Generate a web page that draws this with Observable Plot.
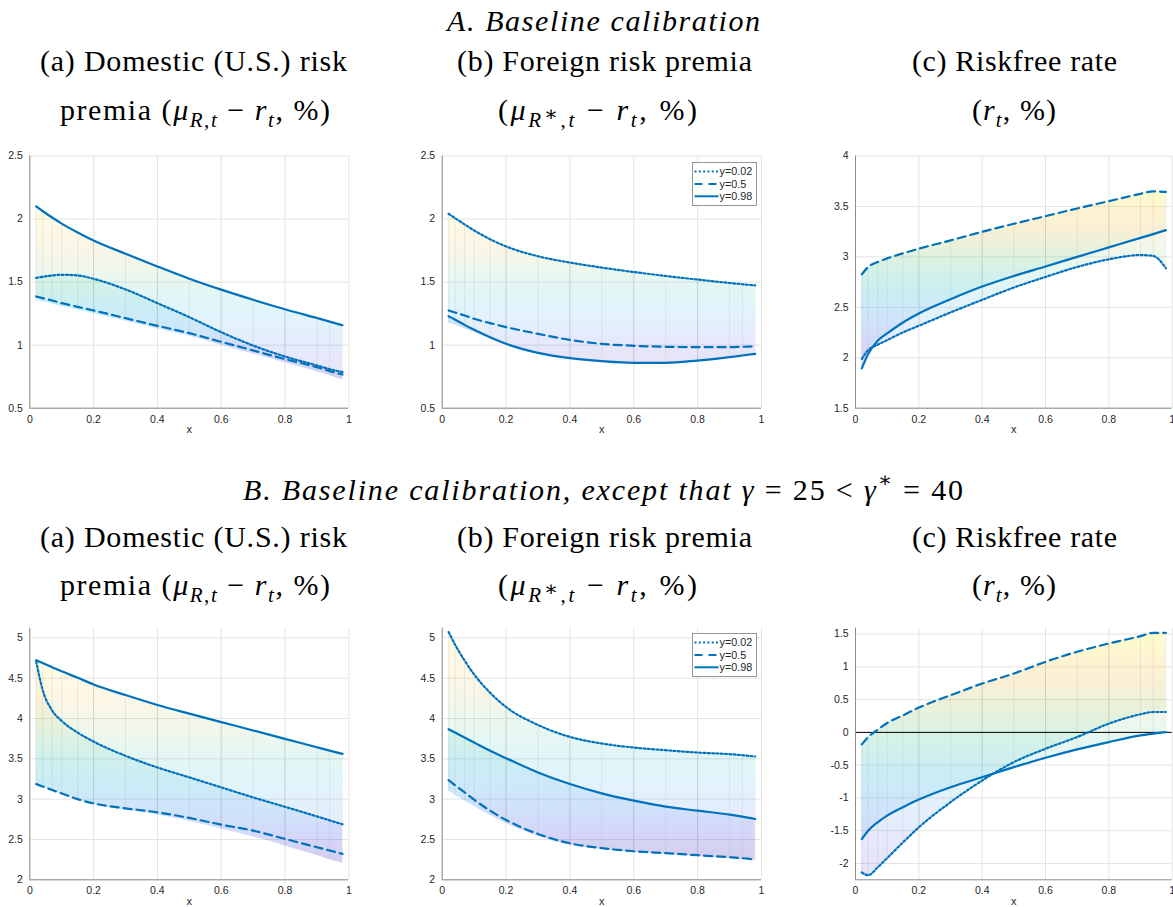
<!DOCTYPE html>
<html><head><meta charset="utf-8">
<script src="https://cdn.jsdelivr.net/npm/d3@7"></script>
<script src="https://cdn.jsdelivr.net/npm/@observablehq/plot@0.6"></script>
<style>
body{margin:0;background:#fff;}
#root{position:relative;width:1173px;height:907px;overflow:hidden;background:#fff;}
.panel{position:absolute;}
#heads{position:absolute;left:0;top:0;}
</style></head><body><div id="root"></div>
<script>
// ---------------- data ----------------
const xs = [0.02,0.04,0.07,0.1,0.15,0.2,0.3,0.4,0.5,0.6,0.7,0.8,0.9,0.94,0.98];
const seriesLabels = ["y=0.02","y=0.5","y=0.98"];
const xTicks = [0,0.2,0.4,0.6,0.8,1];

// A. Baseline calibration
const a1Dot   = [1.534,1.542,1.553,1.558,1.553,1.526,1.442,1.333,1.222,1.103,0.997,0.910,0.839,0.810,0.786];
const a1Dash  = [1.386,1.373,1.354,1.333,1.304,1.275,1.214,1.153,1.095,1.026,0.958,0.889,0.825,0.794,0.767];
const a1Solid = [2.100,2.064,2.012,1.964,1.894,1.830,1.725,1.624,1.527,1.440,1.360,1.285,1.215,1.187,1.158];
const a1Trough= [1.355,1.345,1.327,1.305,1.278,1.250,1.190,1.130,1.070,1.000,0.930,0.860,0.790,0.760,0.725];

const a2Dot   = [2.042,2.008,1.958,1.910,1.840,1.783,1.705,1.655,1.615,1.580,1.549,1.520,1.493,1.483,1.474];
const a2Dash  = [1.275,1.259,1.235,1.209,1.175,1.143,1.090,1.042,1.010,0.995,0.987,0.984,0.984,0.987,0.990];
const a2Solid = [1.230,1.204,1.161,1.122,1.063,1.011,0.939,0.897,0.873,0.860,0.860,0.878,0.905,0.918,0.931];
const a2Trough= [1.175,1.160,1.130,1.100,1.050,1.000,0.930,0.890,0.867,0.855,0.855,0.873,0.900,0.913,0.927];

const a3Dot   = [1.988,2.076,2.129,2.175,2.251,2.317,2.449,2.574,2.696,2.801,2.900,2.976,3.018,3.009,2.887];
const a3Dash  = [2.827,2.900,2.949,2.985,3.035,3.081,3.163,3.249,3.328,3.404,3.480,3.552,3.625,3.650,3.644];
const a3Solid = [1.895,2.037,2.169,2.241,2.350,2.439,2.580,2.706,2.811,2.905,3.000,3.094,3.188,3.226,3.265];

// B. gamma = 25 < gamma* = 40
const b1Dot   = [4.710,4.360,4.100,3.970,3.826,3.714,3.537,3.393,3.270,3.146,3.022,2.905,2.786,2.737,2.688];
const b1Dash  = [3.187,3.158,3.113,3.071,3.000,2.948,2.886,2.837,2.767,2.684,2.610,2.507,2.404,2.363,2.321];
const b1Solid = [4.724,4.688,4.636,4.585,4.505,4.423,4.291,4.168,4.060,3.956,3.852,3.748,3.644,3.602,3.561];
const b1Trough= [3.180,3.150,3.105,3.062,2.990,2.935,2.865,2.805,2.725,2.630,2.535,2.420,2.300,2.250,2.205];

const b2Dot   = [5.074,4.918,4.720,4.547,4.320,4.143,3.920,3.772,3.690,3.640,3.607,3.578,3.558,3.545,3.529];
const b2Dash  = [3.236,3.174,3.084,2.993,2.857,2.742,2.569,2.453,2.392,2.354,2.330,2.305,2.280,2.268,2.251];
const b2Solid = [3.867,3.826,3.764,3.702,3.599,3.508,3.331,3.187,3.071,2.981,2.907,2.857,2.808,2.783,2.754];
const b2Trough= [3.100,3.050,2.980,2.910,2.800,2.700,2.540,2.430,2.375,2.340,2.315,2.290,2.265,2.252,2.235];

const b3Dot   = [-2.138,-2.180,-2.060,-1.918,-1.679,-1.449,-1.066,-0.735,-0.454,-0.250,-0.071,0.133,0.276,0.311,0.311];
const b3Dash  = [-0.184,-0.070,0.040,0.143,0.260,0.378,0.566,0.745,0.898,1.077,1.230,1.357,1.469,1.520,1.520];
const b3Solid = [-1.628,-1.500,-1.372,-1.270,-1.143,-1.026,-0.837,-0.684,-0.531,-0.388,-0.260,-0.148,-0.046,-0.020,0.005];

const yTicksA12 = [0.5,1,1.5,2,2.5];
const yTicksA3  = [1.5,2,2.5,3,3.5,4];
const yTicksB12 = [2,2.5,3,3.5,4,4.5,5];
const yTicksB3  = [-2,-1.5,-1,-0.5,0,0.5,1,1.5];

// ---------------- style ----------------
const blue = "#0072BD";
const serif = "'Liberation Serif', 'DejaVu Serif', 'Noto Serif', 'Noto Serif CJK SC', 'Noto Serif CJK JP', 'Tinos', 'FreeSerif', 'Nimbus Roman', 'Times New Roman', Times, serif";
const sans = "'Liberation Sans', Arial, Helvetica, sans-serif";
const parula = [[0,"#3e26a8"],[0.12,"#4648e6"],[0.27,"#2a8ced"],[0.42,"#12b2cf"],[0.56,"#40c396"],[0.68,"#9cc25c"],[0.8,"#e9bb42"],[0.9,"#fbcf32"],[1,"#f7f414"]];
const fmt = d => String(+d.toFixed(2));
const root = document.getElementById("root");

function panel(cfg) {
  const rows = xs.map((x, i) => {
    const d = cfg.dot[i], m = cfg.dash[i], s = cfg.solid[i];
    const e = cfg.trough ? cfg.trough[i] : m;
    const lo = Math.min(d, m, s, e), hi = Math.max(d, m, s, e);
    const o1 = cfg.trough ? e : Math.max(d, s);
    const o2 = cfg.trough ? Math.min(d, s) : m;
    return {x, dot: d, dash: m, solid: s, lo, hi, o1, o2};
  });
  const gid = "grad" + cfg.id;
  const curve = "monotone-x";
  const plot = Plot.plot({
    width: cfg.w, height: cfg.h,
    marginLeft: cfg.ml, marginRight: cfg.mr, marginTop: cfg.mt, marginBottom: cfg.mb,
    style: {fontFamily: sans, fontSize: "10.5px", color: "#262626", background: "transparent"},
    x: {domain: [0, 1]},
    y: {domain: cfg.ydom},
    marks: [
      Plot.gridX(xTicks, {stroke: "#e4e4e4", strokeOpacity: 1}),
      Plot.gridY(cfg.yticks, {stroke: "#e4e4e4", strokeOpacity: 1}),
      Plot.areaY(rows, {x: "x", y1: "lo", y2: "hi", fill: `url(#${gid})`, fillOpacity: 0.13, curve}),
      Plot.areaY(rows, {x: "x", y1: "o1", y2: "o2", fill: `url(#${gid})`, fillOpacity: 0.11, curve}),
      Plot.ruleX(rows, {x: "x", y1: "lo", y2: "hi", stroke: "#707070", strokeOpacity: 0.16, strokeWidth: 0.7}),
      cfg.zero ? Plot.ruleY([0], {stroke: "#000", strokeWidth: 1}) : null,
      Plot.line(rows, {x: "x", y: "dot", stroke: blue, strokeWidth: 2.2, strokeDasharray: "2,2.3", curve}),
      Plot.line(rows, {x: "x", y: "dash", stroke: blue, strokeWidth: 2.2, strokeDasharray: "8,5", curve}),
      Plot.line(rows, {x: "x", y: "solid", stroke: blue, strokeWidth: 2.2, curve}),
      Plot.ruleX([0], {stroke: "#8c8c8c", strokeWidth: 1}),
      Plot.ruleY([cfg.ydom[0]], {stroke: "#8c8c8c", strokeWidth: 1}),
      Plot.axisX(xTicks, {tickSize: 0, tickPadding: 7, tickFormat: fmt, label: null}),
      Plot.axisY(cfg.yticks, {tickSize: 0, tickPadding: 7, tickFormat: fmt, label: null}),
      Plot.text(["x"], {frameAnchor: "bottom", dy: 25, fontSize: 11, fill: "#262626"})
    ]
  });
  const y = plot.scale("y");
  const zmin = d3.min(rows, d => d.lo), zmax = d3.max(rows, d => d.hi);
  const grad = d3.select(plot).insert("defs", ":first-child").append("linearGradient")
    .attr("id", gid).attr("gradientUnits", "userSpaceOnUse")
    .attr("x1", 0).attr("x2", 0).attr("y1", y.apply(zmin)).attr("y2", y.apply(zmax));
  parula.forEach(([o, c]) => grad.append("stop").attr("offset", o).attr("stop-color", c));
  const div = document.createElement("div");
  div.className = "panel";
  div.style.left = cfg.left + "px"; div.style.top = cfg.top + "px";
  div.style.width = cfg.w + "px"; div.style.height = cfg.h + "px";
  div.appendChild(plot);
  root.appendChild(div);
}

function legend(left, top) {
  const s = d3.create("svg").attr("width", 66).attr("height", 45)
    .style("position", "absolute").style("left", left + "px").style("top", top + "px");
  s.append("rect").attr("x", 0.5).attr("y", 0.5).attr("width", 64).attr("height", 43)
    .attr("fill", "#fff").attr("stroke", "#8c8c8c").attr("stroke-width", 0.9);
  const dashes = ["2,2.3", "8,6", null];
  seriesLabels.forEach((lab, i) => {
    const yy = 9.5 + i * 12.4;
    s.append("line").attr("x1", 2.5).attr("x2", 26.5).attr("y1", yy).attr("y2", yy)
      .attr("stroke", blue).attr("stroke-width", 2).attr("stroke-dasharray", dashes[i]);
    s.append("text").attr("x", 27.5).attr("y", yy).attr("dy", "0.36em")
      .attr("font-family", sans).attr("font-size", 10.8)
      .attr("fill", "#262626").text(lab);
  });
  root.appendChild(s.node());
}

// ---------------- headings (SVG text, baseline-positioned) ----------------
const muSeg = (star) => [["(", ""], ["μ", "i"], ["R", "i sub"]]
  .concat(star ? [["∗", "subsup"]] : [])
  .concat([[",", "sub"], ["t", "i sub"], [" − ", ""], ["r", "i"], ["t", "i sub"], [", %)", ""]]);
const headings = [
  {segs: [["A. Baseline calibration", "i"]], c: 603.5, w: 313, base: 31},
  {segs: [["(a) Domestic (U.S.) risk", ""]], c: 193.5, w: 307, base: 71},
  {segs: [["premia ", ""]].concat(muSeg(false)), c: 195, w: 270, base: 120},
  {segs: [["(b) Foreign risk premia", ""]], c: 604.5, w: 295, base: 71},
  {segs: muSeg(true), c: 597.5, w: 199, base: 120},
  {segs: [["(c) Riskfree rate", ""]], c: 1014.5, w: 205, base: 71},
  {segs: [["(", ""], ["r", "i"], ["t", "i sub"], [", %)", ""]], c: 1014, w: 84, base: 120},
  {segs: [["B. Baseline calibration, except that ", "i"], ["γ", "i"], [" = 25 < ", ""], ["γ", "i"], ["∗", "sup"], [" = 40", ""]], c: 603, w: 720, base: 500},
  {segs: [["(a) Domestic (U.S.) risk", ""]], c: 193.5, w: 307, base: 547},
  {segs: [["premia ", ""]].concat(muSeg(false)), c: 195, w: 270, base: 595},
  {segs: [["(b) Foreign risk premia", ""]], c: 604.5, w: 295, base: 547},
  {segs: muSeg(true), c: 597.5, w: 199, base: 595},
  {segs: [["(c) Riskfree rate", ""]], c: 1014.5, w: 205, base: 547},
  {segs: [["(", ""], ["r", "i"], ["t", "i sub"], [", %)", ""]], c: 1014, w: 84, base: 595}
];
const hs = d3.create("svg").attr("id", "heads").attr("width", 1173).attr("height", 907);
root.appendChild(hs.node());
const probe = hs.append("text").attr("font-family", serif).attr("font-size", 30).text("(a) Domestic (U.S.) risk");
const natural = probe.node().getComputedTextLength();
probe.remove();
const fs = Math.min(30, 30 * 300 / natural);
headings.forEach(h => {
  const t = hs.append("text").attr("x", h.c).attr("y", h.base).attr("text-anchor", "middle")
    .attr("font-family", serif).attr("font-size", fs).attr("fill", "#000");
  let shift = 0;
  h.segs.forEach(([txt, st]) => {
    const sub = st.includes("sub") && !st.includes("subsup");
    const sup = st.includes("sup") && !st.includes("subsup");
    const target = sub ? 0.22 * fs : sup ? -0.42 * fs : st.includes("subsup") ? 0.02 * fs : 0;
    t.append("tspan").attr("dy", target - shift)
      .attr("font-style", st.includes("i") && !st.includes("subsup") ? "italic" : "normal")
      .attr("font-size", (sub || sup || st.includes("subsup")) ? 0.7 * fs : fs)
      .text(txt);
    shift = target;
  });
  t.attr("textLength", h.w).attr("lengthAdjust", "spacing");
});

// ---------------- panels ----------------
const topRow = {top: 140, h: 310, mt: 15.5, mb: 42.3};
const botRow = {top: 615, h: 292, mt: 12.7, mb: 27.7};
const col1 = {left: 0, w: 390, ml: 29.3, mr: 41.7};
const col2 = {left: 390, w: 390, ml: 51.7, mr: 19};
const col3 = {left: 780, w: 393, ml: 75, mr: 1.3};

panel({id: "A1", ...topRow, ...col1, dot: a1Dot, dash: a1Dash, solid: a1Solid, trough: a1Trough, ydom: [0.5, 2.5], yticks: yTicksA12});
panel({id: "A2", ...topRow, ...col2, dot: a2Dot, dash: a2Dash, solid: a2Solid, trough: a2Trough, ydom: [0.5, 2.5], yticks: yTicksA12});
panel({id: "A3", ...topRow, ...col3, dot: a3Dot, dash: a3Dash, solid: a3Solid, trough: null, ydom: [1.5, 4], yticks: yTicksA3});
panel({id: "B1", ...botRow, ...col1, dot: b1Dot, dash: b1Dash, solid: b1Solid, trough: b1Trough, ydom: [2, 5.12], yticks: yTicksB12});
panel({id: "B2", ...botRow, ...col2, dot: b2Dot, dash: b2Dash, solid: b2Solid, trough: b2Trough, ydom: [2, 5.12], yticks: yTicksB12});
panel({id: "B3", ...botRow, ...col3, dot: b3Dot, dash: b3Dash, solid: b3Solid, trough: null, ydom: [-2.25, 1.59], yticks: yTicksB3, zero: true});

legend(691.7, 161.7);
legend(691.7, 633.3);
</script></body></html>
